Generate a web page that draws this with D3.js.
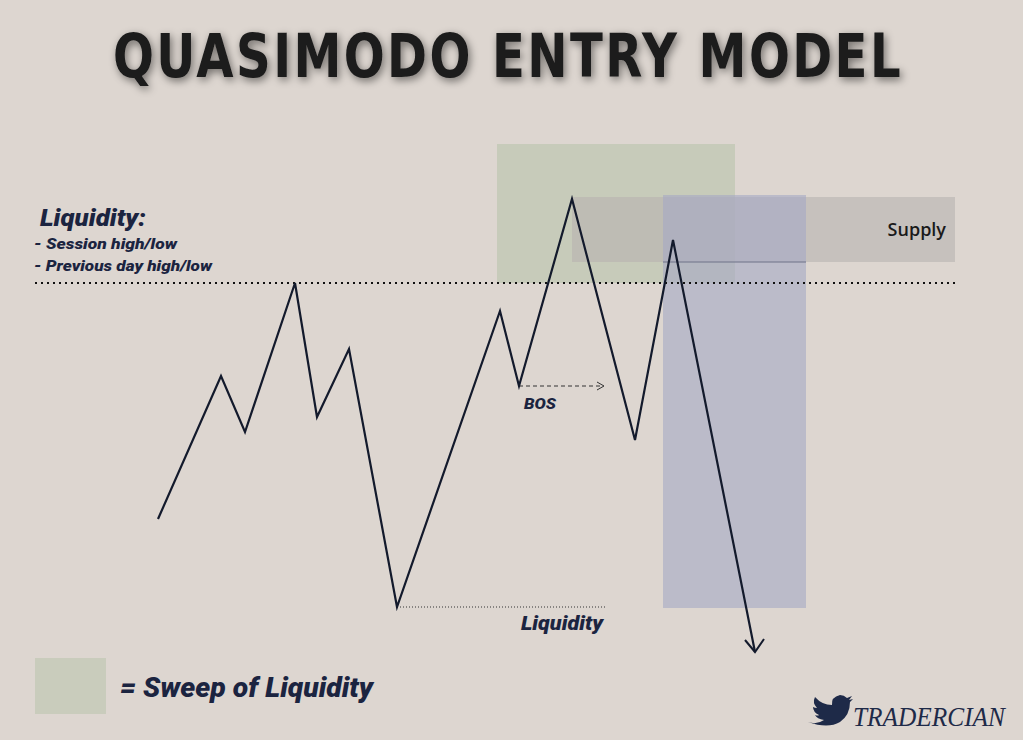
<!DOCTYPE html>
<html>
<head>
<meta charset="utf-8" />
<style>
body { margin:0; background:#ddd6d0; }
svg { display:block; }
</style>
<script src="https://d3js.org/d3.v7.min.js"></script>
</head>
<body>
<div id="chart"></div>
<script>
// price path (x = bar position, y = price level)
var pathX = [158, 221, 245, 295, 317, 349, 397, 500, 519, 572, 635, 673, 755];
var pathY = [519, 376, 432, 283, 417, 349, 607, 311, 386, 199, 440, 240, 652];
var liquidityLevel = 283;
var lowLevel = 607;
var bosLevel = 386;
var zoneNames = ["sweep", "supply", "trade"];
var zoneX0 = [497, 572, 663];
var zoneX1 = [735, 955, 806];
var zoneY0 = [144, 197, 195];
var zoneY1 = [283, 262, 608];

var W = 1023, H = 740;
var x = d3.scaleLinear().domain([0, 1023]).range([0, W]);
var y = d3.scaleLinear().domain([0, 740]).range([0, H]);

var svg = d3.select("#chart").append("svg").attr("width", W).attr("height", H);
svg.append("rect").attr("width", W).attr("height", H).attr("fill", "#ddd6d0");

var defs = svg.append("defs");
var f = defs.append("filter").attr("id", "shadow").attr("filterUnits", "userSpaceOnUse")
  .attr("x", 0).attr("y", 0).attr("width", W).attr("height", 130);
f.append("feGaussianBlur").attr("in", "SourceAlpha").attr("stdDeviation", 4);
f.append("feOffset").attr("dx", 2).attr("dy", 3).attr("result", "b");
f.append("feComponentTransfer").append("feFuncA").attr("type", "linear").attr("slope", 0.5);
var m = f.append("feMerge"); m.append("feMergeNode"); m.append("feMergeNode").attr("in", "SourceGraphic");

// title
svg.append("text").attr("x", 508).attr("y", 77).attr("text-anchor", "middle")
  .attr("font-family", "DejaVu Sans").attr("font-weight", "bold").attr("font-size", 60)
  .attr("letter-spacing", 3).attr("fill", "#1a1a1a").attr("filter", "url(#shadow)")
  .attr("textLength", 790).attr("lengthAdjust", "spacingAndGlyphs")
  .text("QUASIMODO ENTRY MODEL");

// zones
var zoneFill = ["#b9c3ab", "#b8b3b0", "#a5a9c4"];
var zoneOp = [0.6, 0.6, 0.6];
svg.selectAll(".zone").data(zoneNames).enter().append("rect")
  .attr("class", "zone")
  .attr("x", (d, i) => x(zoneX0[i])).attr("y", (d, i) => y(zoneY0[i]))
  .attr("width", (d, i) => x(zoneX1[i]) - x(zoneX0[i]))
  .attr("height", (d, i) => y(zoneY1[i]) - y(zoneY0[i]))
  .attr("fill", (d, i) => zoneFill[i]).attr("fill-opacity", (d, i) => zoneOp[i]);
svg.append("line").attr("x1", x(663)).attr("x2", x(806)).attr("y1", y(262)).attr("y2", y(262))
  .attr("stroke", "#6e7288").attr("stroke-width", 1);
svg.append("text").attr("x", x(946)).attr("y", y(236)).attr("text-anchor", "end")
  .attr("font-family", "Open Sans").attr("font-weight", 600).attr("font-size", 18).attr("fill", "#1a1a1a").text("Supply");

// liquidity line
svg.append("line").attr("x1", x(35)).attr("x2", x(955)).attr("y1", y(liquidityLevel)).attr("y2", y(liquidityLevel))
  .attr("stroke", "#111").attr("stroke-width", 2).attr("stroke-dasharray", "2,4");
svg.append("line").attr("x1", x(397)).attr("x2", x(605)).attr("y1", y(lowLevel)).attr("y2", y(lowLevel))
  .attr("stroke", "#333").attr("stroke-width", 1).attr("stroke-dasharray", "1,2");
svg.append("line").attr("x1", x(519)).attr("x2", x(603)).attr("y1", y(bosLevel)).attr("y2", y(bosLevel))
  .attr("stroke", "#333").attr("stroke-width", 1).attr("stroke-dasharray", "4,3");
svg.append("path").attr("d", "M" + (x(597)) + "," + (y(bosLevel) - 4) + "L" + x(604) + "," + y(bosLevel) + "L" + x(597) + "," + (y(bosLevel) + 4))
  .attr("fill", "none").attr("stroke", "#333");

// price path
var pts = pathX.map((v, i) => [x(v), y(pathY[i])]);
svg.append("path").attr("d", d3.line()(pts)).attr("fill", "none")
  .attr("stroke", "#131a2c").attr("stroke-width", 2.2).attr("stroke-linejoin", "miter");
var last = pts[pts.length - 1];
svg.append("path").attr("d", "M" + (last[0] - 10) + "," + (last[1] - 12) + "L" + last[0] + "," + last[1] + "L" + (last[0] + 9) + "," + (last[1] - 13))
  .attr("fill", "none").attr("stroke", "#131a2c").attr("stroke-width", 2);

// labels
var navy = "#1b2440";
function lab(tx, ty, s, size, len) {
  var t = svg.append("text").attr("x", tx).attr("y", ty).attr("font-family", "Roboto")
    .attr("font-weight", "900").attr("font-style", "italic").attr("font-size", size)
    .attr("fill", navy).text(s);
  if (len) t.attr("textLength", len).attr("lengthAdjust", "spacingAndGlyphs");
}
lab(40, 226, "Liquidity:", 23, 106);
lab(34, 249, "- Session high/low", 15, 143);
lab(34, 271, "- Previous day high/low", 15, 178);
lab(524, 409, "BOS", 15, 32);
lab(521, 630, "Liquidity", 20, 82);
svg.append("rect").attr("x", 35).attr("y", 658).attr("width", 71).attr("height", 56).attr("fill", "#c9ccbc");
lab(120, 697, "= Sweep of Liquidity", 27, 253);

// signature
svg.append("path").attr("d", "M808,722 q9,3 16,-2 q-7,-1 -9,-5 q3,1 4,0 q-6,-3 -6,-8 q2,1 4,1 q-5,-5 -2,-11 q7,8 17,8 q-1,-8 8,-10 q4,0 7,3 l5,-2 l-3,4 l4,-1 l-3,3 q0,13 -10,20 q-12,7 -32,0z")
  .attr("fill", "#1e2a48");
svg.append("text").attr("x", 853).attr("y", 726).attr("font-family", "Liberation Serif")
  .attr("font-style", "italic").attr("font-size", 28).attr("fill", "#1e2a48")
  .attr("textLength", 152).attr("lengthAdjust", "spacingAndGlyphs").text("TRADERCIAN");
</script>
</body>
</html>
